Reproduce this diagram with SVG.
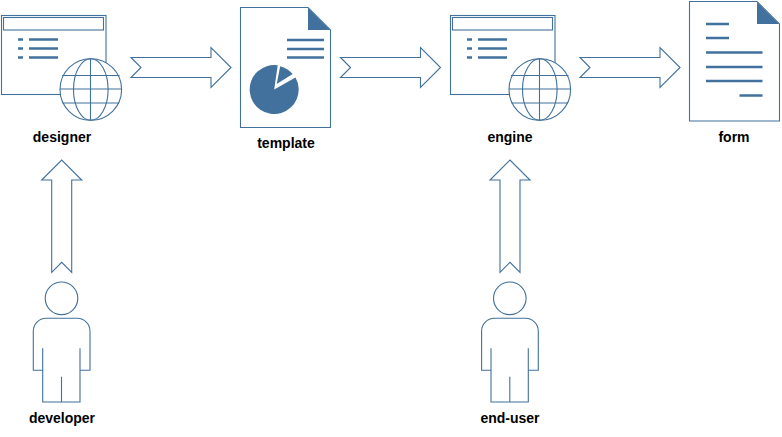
<svg xmlns="http://www.w3.org/2000/svg" width="782" height="437" viewBox="0 0 782 437">
<style>
.o{fill:#fff;stroke:#41719c;stroke-width:1.1}
.n{fill:none;stroke:#41719c;stroke-width:1.1}
.b{fill:none;stroke:#41719c;stroke-width:2.6}
.f{fill:#41719c;stroke:none}
text{font-family:"Liberation Sans",Arial,sans-serif;font-size:14px;font-weight:bold;fill:#000;text-anchor:middle}
</style>
<defs>
<g id="browser">
<rect class="o" x="1.5" y="15.5" width="104.5" height="79"/>
<rect class="n" x="3.5" y="17.5" width="100" height="12.5"/>
<path class="b" d="M18 39.5h5M29 39.500h29M18 48.500h5M29 48.500h29M18 57.500h5M29 57.500h29"/>
<circle class="o" cx="90.800" cy="89.500" r="30.800"/>
<ellipse class="n" cx="90.800" cy="89.500" rx="17.300" ry="30.800"/>
<path class="n" d="M90.500 58.700V120.300M62 75.500H119.500M60 89H121.600M62.500 103H119"/>
</g>
<g id="person">
<circle class="n" cx="61.500" cy="298.300" r="16.300"/>
<path class="n" d="M42.700 348.300V402H80V348.300M80 370.300H90V331A12.700 12.700 0 0 0 77.300 318.300H46A12.700 12.700 0 0 0 33.300 331V370.300H42.700M61.500 376.700V402"/>
</g>
<path id="right" class="o" d="M131 57.500L141 67.500L131 77.500H211V87.500L231 67.500L211 47.500V57.500Z"/>
<path id="up" class="o" d="M51.700 272.300L61.700 262.300L71.700 272.300V180H81.700L61.700 160L41.700 180H51.700Z"/>
</defs>
<g id="connectors">
<use href="#right"/>
<use href="#right" x="209.500"/>
<use href="#right" x="449"/>
<use href="#up"/>
<use href="#up" x="448.300"/>
</g>
<g id="designer">
<use href="#browser"/>
<text x="62" y="142">designer</text>
</g>
<g id="template">
<path class="o" d="M240.500 7.500H308L330.500 30V127.500H240.500Z"/>
<path class="f" d="M308 8V30H330Z"/>
<path class="b" d="M287 40h37M287 49h37M287 57.500h37"/>
<path class="f" d="M277.700 65.300A24.500 24.500 0 1 0 295.500 77.500L274.200 89.500Z"/>
<path class="f" d="M280.200 66.200A24.500 24.500 0 0 1 292.700 74L276.700 84Z"/>
<text x="286" y="148">template</text>
</g>
<g id="engine">
<use href="#browser" x="449"/>
<text x="510" y="142">engine</text>
</g>
<g id="form">
<path class="o" d="M689.500 1.500H757L779.500 24V121H689.500Z"/>
<path class="f" d="M757 2V24H779Z"/>
<path class="b" d="M706 24h23M706 38h23M706 52.500h56.500M706 67h56.500M706 81h56.500M739.500 95.500h23"/>
<text x="734" y="142">form</text>
</g>
<g id="developer">
<use href="#person"/>
<text x="62" y="423">developer</text>
</g>
<g id="end-user">
<use href="#person" x="448.300"/>
<text x="510" y="423">end-user</text>
</g>
</svg>
